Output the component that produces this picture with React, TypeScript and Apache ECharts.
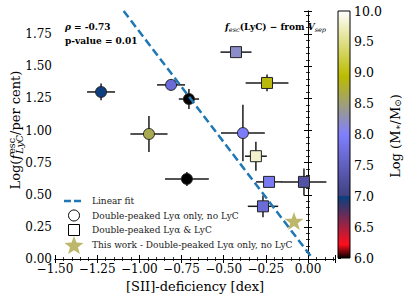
import React, { useEffect, useRef } from "react";
import * as echarts from "echarts";

// ---------- data ----------
const X_MIN = -1.5;
const X_MAX = 0.16;
const Y_MIN = 0;
const Y_MAX = 1.93;
const TICK_STEP = 0.25;

// circles: Double-peaked Lyα only, no LyC
const CIRCLE_X = [-1.227, -0.812, -0.706, -0.943, -0.386, -0.718];
const CIRCLE_Y = [1.3, 1.355, 1.245, 0.973, 0.98, 0.623];
const CIRCLE_XERR = [0.083, 0.083, 0.06, 0.11, 0.13, 0.13];
const CIRCLE_YERR = [0.065, 0.03, 0.078, 0.14, 0.22, 0.055];
const CIRCLE_MASS = [6.98, 7.7, 6.0, 8.65, 7.95, 6.0];

// squares: Double-peaked Lyα & LyC
const SQUARE_X = [-0.427, -0.243, -0.309, -0.231, -0.024, -0.267];
const SQUARE_Y = [1.61, 1.37, 0.8, 0.6, 0.6, 0.41];
const SQUARE_XERR = [0.092, 0.127, 0.065, 0.077, 0.133, 0.09];
const SQUARE_YERR = [0.02, 0.065, 0.113, 0.03, 0.105, 0.085];
const SQUARE_MASS = [8.2, 8.9, 9.8, 7.9, 7.3, 7.7];

// star: this work
const STAR_X = [-0.083];
const STAR_Y = [0.296];

// linear fit
const FIT_SLOPE = -1.72;
const FIT_INTERCEPT = 0.05;

// colour bar
const CB_MIN = 6.0;
const CB_MAX = 10.0;
const CB_STEP = 0.5;

const LEGEND_NAMES = [
  "Linear fit",
  "Double-peaked Lyα only, no LyC",
  "Double-peaked Lyα & LyC",
  "This work - Double-peaked Lyα only, no LyC",
];

// ---------- helpers ----------
const SERIF = "DejaVu Serif";
const FIT_COLOR = "#1f77b4";
const STAR_COLOR = "#bdb76b";

function interp(pts: number[][], t: number) {
  for (let i = 0; i < pts.length - 1; i++) {
    const [x0, y0] = pts[i];
    const [x1, y1] = pts[i + 1];
    if (t >= x0 && t <= x1) {
      if (x1 === x0) return y1;
      return y0 + ((t - x0) / (x1 - x0)) * (y1 - y0);
    }
  }
  return pts[pts.length - 1][1];
}
// matplotlib gist_stern
function gistStern(t: number) {
  const r = t < 0.25
    ? interp([[0, 0], [0.0547, 1], [0.25, 0.027]], t)
    : interp([[0.25, 0.25], [1, 1]], t);
  const g = t;
  const b = interp([[0, 0], [0.5, 1], [0.735, 0], [1, 1]], t);
  const c = (v: number) => Math.round(Math.max(0, Math.min(1, v)) * 255);
  return `rgb(${c(r)},${c(g)},${c(b)})`;
}
function massColor(m: number) {
  return gistStern((m - CB_MIN) / (CB_MAX - CB_MIN));
}

let measureCtx: CanvasRenderingContext2D | null = null;
function textWidth(text: string, font: string) {
  if (!measureCtx) measureCtx = document.createElement("canvas").getContext("2d");
  measureCtx!.font = font;
  return measureCtx!.measureText(text).width;
}

type Seg = { t: string; size: number; italic?: boolean; bold?: boolean; dy?: number; noAdvance?: boolean; extra?: number };
function layoutSegs(segs: Seg[]) {
  let x = 0;
  const children: any[] = [];
  for (const s of segs) {
    const font = `${s.italic ? "italic" : "normal"} ${s.bold ? "bold" : "normal"} ${s.size}px "${SERIF}"`;
    children.push({
      type: "text",
      x,
      y: s.dy || 0,
      style: {
        text: s.t,
        font,
        fill: "#000",
        textAlign: "left",
        align: "left",
        textVerticalAlign: "middle",
        verticalAlign: "middle",
      },
    });
    if (!s.noAdvance) x += textWidth(s.t, font) + (s.extra || 0);
  }
  return { children, width: x };
}

function fmtTick(v: number, d: number) {
  const s = Math.abs(v).toFixed(d);
  return v < -1e-9 ? "\u2212" + s : s;
}

function starPoints(cx: number, cy: number, R: number, r: number) {
  const pts: number[][] = [];
  for (let i = 0; i < 10; i++) {
    const a = -Math.PI / 2 + (i * Math.PI) / 5;
    const rad = i % 2 === 0 ? R : r;
    pts.push([cx + rad * Math.cos(a), cy + rad * Math.sin(a)]);
  }
  return pts;
}

const STAR_PATH =
  "path://M0,-10 L2.35,-3.24 L9.51,-3.09 L3.8,1.24 L5.88,8.09 L0,4 L-5.88,8.09 L-3.8,1.24 L-9.51,-3.09 L-2.35,-3.24 Z";

export default function App() {
  const ref = useRef<HTMLDivElement>(null);

  useEffect(() => {
    if (!ref.current) return;
    const chart = echarts.init(ref.current, null, { renderer: "svg" });

    const circles = CIRCLE_X.map((x, i) => [x, CIRCLE_Y[i], CIRCLE_MASS[i]]);
    const squares = SQUARE_X.map((x, i) => [x, SQUARE_Y[i], SQUARE_MASS[i]]);
    const stars = STAR_X.map((x, i) => [x, STAR_Y[i]]);
    const errs = [
      ...CIRCLE_X.map((x, i) => [x, CIRCLE_Y[i], CIRCLE_XERR[i], CIRCLE_YERR[i]]),
      ...SQUARE_X.map((x, i) => [x, SQUARE_Y[i], SQUARE_XERR[i], SQUARE_YERR[i]]),
    ];
    const fitLine = [
      [(Y_MAX - FIT_INTERCEPT) / FIT_SLOPE, Y_MAX],
      [(Y_MIN - FIT_INTERCEPT) / FIT_SLOPE, Y_MIN],
    ];

    // colour bar gradient stops
    const stops: any[] = [];
    for (let i = 0; i <= 200; i++) {
      const t = i / 200;
      if (Math.abs(t - 0.25) < 1e-9) stops.push({ offset: 0.2499, color: gistStern(0.2499) });
      stops.push({ offset: t, color: gistStern(t) });
    }

    // text blocks
    const yLab = layoutSegs([
      { t: "Log(", size: 13 },
      { t: "f", size: 13, italic: true, extra: 1 },
      { t: "esc", size: 9.5, dy: -4, noAdvance: true },
      { t: "LyC", size: 9.5, italic: true, dy: 4 },
      { t: "/per cent)", size: 13 },
    ]);
    const cbLab = layoutSegs([
      { t: "Log (M", size: 13 },
      { t: "\u2217", size: 9, dy: 3 },
      { t: "/M", size: 13 },
      { t: "\u2299", size: 9, dy: 3 },
      { t: ")", size: 13 },
    ]);
    const trLab = layoutSegs([
      { t: "f", size: 9, italic: true, bold: true },
      { t: "esc", size: 6.5, italic: true, dy: 2.5 },
      { t: "(LyC) \u2212 from ", size: 9, bold: true },
      { t: "V", size: 9, italic: true, bold: true },
      { t: "sep", size: 6.5, italic: true, dy: 2.5 },
    ]);
    const rhoLab = layoutSegs([
      { t: "\u03c1", size: 9, italic: true, bold: true },
      { t: " = -0.73", size: 9, bold: true },
    ]);

    // legend (manual)
    const LEG_X = 74;
    const LEG_TX = 92;
    const LEG_Y = [201, 215.5, 230, 245];
    const legText = (i: number) => ({
      type: "text", x: LEG_TX, y: LEG_Y[i],
      style: {
        text: LEGEND_NAMES[i], font: `9px "${SERIF}"`, fill: "#222",
        textAlign: "left", align: "left", textVerticalAlign: "middle", verticalAlign: "middle",
      },
    });
    const legendGraphics: any[] = [
      {
        type: "line", shape: { x1: LEG_X - 10, y1: LEG_Y[0], x2: LEG_X + 10, y2: LEG_Y[0] },
        style: { stroke: FIT_COLOR, lineWidth: 2.5, lineDash: [7, 3] },
      },
      legText(0),
      { type: "circle", shape: { cx: LEG_X, cy: LEG_Y[1], r: 5.5 }, style: { fill: "#fff", stroke: "#000", lineWidth: 1 } },
      legText(1),
      { type: "rect", shape: { x: LEG_X - 5.5, y: LEG_Y[2] - 5.5, width: 11, height: 11 }, style: { fill: "#fff", stroke: "#000", lineWidth: 1 } },
      legText(2),
      { type: "polygon", shape: { points: starPoints(LEG_X, LEG_Y[3] + 1, 10, 4.2) }, style: { fill: STAR_COLOR } },
      legText(3),
    ];

    const axisCommon = {
      axisLine: { show: true, lineStyle: { color: "#000", width: 1 } },
      splitLine: { show: false },
    };
    const tickStyle = {
      axisTick: { show: true, inside: true, length: 4, lineStyle: { color: "#000", width: 1 } },
      minorTick: { show: true, splitNumber: 5, length: 2, lineStyle: { color: "#000", width: 0.8 } },
    };
    const labelFont = { fontFamily: SERIF, fontSize: 12, color: "#000" };

    const option: any = {
      animation: false,
      backgroundColor: "#fff",
      grid: [
        { left: 55, top: 11, width: 280, height: 248 },
        { left: 338, top: 11, width: 12, height: 247 },
      ],
      xAxis: [
        {
          gridIndex: 0, type: "value", min: X_MIN, max: X_MAX, interval: TICK_STEP, position: "bottom",
          ...axisCommon, ...tickStyle,
          axisLabel: { ...labelFont, margin: 4, showMaxLabel: false, formatter: (v: number) => fmtTick(v, 2) },
          name: "[SII]-deficiency [dex]", nameLocation: "middle", nameGap: 19,
          nameTextStyle: { fontFamily: SERIF, fontSize: 13, color: "#000" },
        },
        {
          gridIndex: 0, type: "value", min: X_MIN, max: X_MAX, interval: TICK_STEP, position: "top",
          ...axisCommon, ...tickStyle, axisLabel: { show: false },
        },
        { gridIndex: 1, type: "value", min: 0, max: 1, show: false },
      ],
      yAxis: [
        {
          gridIndex: 0, type: "value", min: Y_MIN, max: Y_MAX, interval: TICK_STEP, position: "left",
          ...axisCommon, ...tickStyle,
          axisLabel: { ...labelFont, margin: 3, showMaxLabel: false, formatter: (v: number) => fmtTick(v, 2) },
        },
        {
          gridIndex: 0, type: "value", min: Y_MIN, max: Y_MAX, interval: TICK_STEP, position: "right",
          ...axisCommon, ...tickStyle, axisLabel: { show: false },
        },
        {
          gridIndex: 1, type: "value", min: CB_MIN, max: CB_MAX, interval: CB_STEP, position: "right",
          axisLine: { show: false }, splitLine: { show: false },
          axisTick: { show: true, inside: false, length: 3, lineStyle: { color: "#000" } },
          axisLabel: { ...labelFont, fontSize: 12.5, margin: 4, formatter: (v: number) => v.toFixed(1) },
        },
      ],
      series: [
        {
          type: "custom", xAxisIndex: 0, yAxisIndex: 0, z: 1, silent: true,
          data: errs,
          renderItem: (params: any, api: any) => {
            const x = api.value(0), y = api.value(1), xe = api.value(2), ye = api.value(3);
            const l = api.coord([x - xe, y]);
            const r = api.coord([x + xe, y]);
            const b = api.coord([x, y - ye]);
            const t = api.coord([x, y + ye]);
            return {
              type: "group",
              children: [
                { type: "line", shape: { x1: l[0], y1: l[1], x2: r[0], y2: r[1] }, style: { stroke: "#1a1a1a", lineWidth: 1.5 } },
                { type: "line", shape: { x1: b[0], y1: b[1], x2: t[0], y2: t[1] }, style: { stroke: "#1a1a1a", lineWidth: 1.5 } },
              ],
            };
          },
        },
        {
          type: "scatter", name: LEGEND_NAMES[1], xAxisIndex: 0, yAxisIndex: 0, z: 2,
          symbol: "circle", symbolSize: 11, data: circles,
          itemStyle: { color: (p: any) => massColor(p.data[2]), borderColor: "#222", borderWidth: 1, opacity: 1 },
        },
        {
          type: "scatter", name: LEGEND_NAMES[2], xAxisIndex: 0, yAxisIndex: 0, z: 2,
          symbol: "rect", symbolSize: 11, data: squares,
          itemStyle: { color: (p: any) => massColor(p.data[2]), borderColor: "#222", borderWidth: 1, opacity: 1 },
        },
        {
          type: "scatter", name: LEGEND_NAMES[3], xAxisIndex: 0, yAxisIndex: 0, z: 2,
          symbol: STAR_PATH, symbolSize: [19, 18], data: stars,
          itemStyle: { color: STAR_COLOR, opacity: 1 },
        },
        {
          type: "line", name: LEGEND_NAMES[0], xAxisIndex: 0, yAxisIndex: 0, z: 5,
          data: fitLine, showSymbol: false, symbol: "none",
          lineStyle: { color: FIT_COLOR, width: 2.5, type: [8, 4] },
          itemStyle: { color: FIT_COLOR },
        },
        {
          type: "custom", xAxisIndex: 2, yAxisIndex: 2, silent: true,
          data: [[0, CB_MIN, CB_MAX]],
          renderItem: (params: any, api: any) => {
            const tl = api.coord([0, api.value(2)]);
            const br = api.coord([1, api.value(1)]);
            return {
              type: "rect",
              shape: { x: tl[0], y: tl[1], width: br[0] - tl[0], height: br[1] - tl[1] },
              style: {
                fill: new echarts.graphic.LinearGradient(0, 1, 0, 0, stops),
                stroke: "#000",
                lineWidth: 1,
              },
            };
          },
        },
      ],
      graphic: [
        { type: "group", x: 15, y: 130 + yLab.width / 2, rotation: Math.PI / 2, children: yLab.children },
        { type: "group", x: 395, y: 136 + cbLab.width / 2, rotation: Math.PI / 2, children: cbLab.children },
        { type: "group", x: 326 - trLab.width, y: 27, children: trLab.children },
        { type: "group", x: 65, y: 27, children: rhoLab.children },
        {
          type: "text", x: 65, y: 41,
          style: { text: "p-value = 0.01", font: `bold 9px "${SERIF}"`, fill: "#000", textVerticalAlign: "middle", verticalAlign: "middle" },
        },
        ...legendGraphics,
      ],
    };

    chart.setOption(option);
    return () => chart.dispose();
  }, []);

  return <div ref={ref} style={{ position: "fixed", left: 0, top: 0, width: 407, height: 298 }} />;
}
